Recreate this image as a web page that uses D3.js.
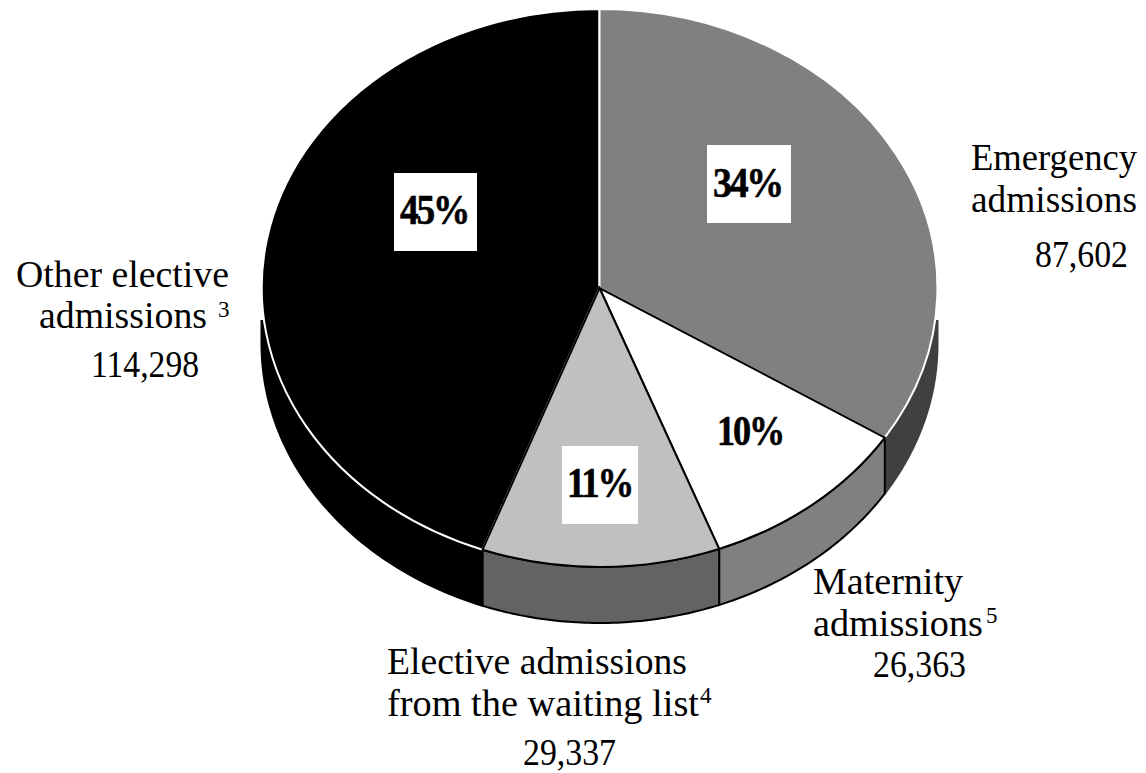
<!DOCTYPE html>
<html><head><meta charset="utf-8">
<script src="https://cdn.jsdelivr.net/npm/d3@7/dist/d3.min.js"></script>
<style>html,body{margin:0;background:#fff}svg{display:block}text{font-family:"Liberation Serif",serif;fill:#000}</style>
</head><body><svg id="c" width="1146" height="773"></svg>
<script>
const categories = ["Emergency admissions","Maternity admissions","Elective admissions from the waiting list","Other elective admissions"];
const values = [87602,26363,29337,114298];
const percentLabels = ["34%","10%","11%","45%"];
const valueLabels = ["87,602","26,363","29,337","114,298"];
const topFill = ["#808080","#ffffff","#c0c0c0","#000000"];
const topStroke = ["#ffffff","#000000","#000000","#ffffff"];
const wallFill = ["#404040","#808080","#636363","#000000"];
const wallStroke = ["#404040","#000000","#000000","#000000"];

const W=1146,H=773,cx=599.5,cy=288,rx=338,ry=279,depth=56;
const svg=d3.select("#c");
const pie=d3.pie().sort(null).startAngle(0).endAngle(2*Math.PI)(values);
const sx=d3.scaleLinear().domain([-1,1]).range([cx-rx,cx+rx]);
const sy=d3.scaleLinear().domain([-1,1]).range([cy-ry,cy+ry]);
const line=d3.line().x(d=>sx(d[0])).y(d=>sy(d[1])+(d[2]||0));

svg.append("clipPath").attr("id","wallClip").append("rect").attr("x",0).attr("y",320).attr("width",W).attr("height",H-320);
const walls=svg.append("g").attr("clip-path","url(#wallClip)");
function wall(a0,a1){
  const t=d3.range(0,61).map(i=>a0+(a1-a0)*i/60);
  const pts=t.map(a=>[Math.sin(a),-Math.cos(a),0]);
  const bot=t.slice().reverse().map(a=>[Math.sin(a),-Math.cos(a),depth]);
  return line(pts.concat(bot))+"Z";
}
pie.forEach((p,i)=>{
  const a0=Math.max(p.startAngle,Math.PI/2), a1=Math.min(p.endAngle,3*Math.PI/2);
  if(a1>a0) walls.append("path").attr("d",wall(a0,a1)).attr("fill",wallFill[i]).attr("stroke",wallStroke[i]).attr("stroke-width",2).attr("stroke-linejoin","round");
});
const arc=d3.arc().innerRadius(0).outerRadius(1);
const g=svg.append("g").attr("transform",`translate(${cx},${cy}) scale(${rx},${ry})`);
[3,0,1,2].forEach(i=>{
  g.append("path").attr("d",arc(pie[i])).attr("fill",topFill[i]).attr("stroke",topStroke[i])
   .attr("stroke-width",2).attr("vector-effect","non-scaling-stroke").attr("stroke-linejoin","miter");
});

const boxLayout=[[707,145,84,78],null,[562,446,76,78],[394,173,83,78]];
boxLayout.forEach(b=>{ if(b) svg.append("rect").attr("x",b[0]).attr("y",b[1]).attr("width",b[2]).attr("height",b[3]).attr("fill","#fff"); });
const pctLayout=[[713,197,69],[717,445,66],[567,497,65],[400,224,68]];
percentLabels.forEach((t,i)=>{
  const l=pctLayout[i];
  svg.append("text").attr("x",l[0]).attr("y",l[1]).attr("font-size",42).attr("font-weight","bold")
    .attr("letter-spacing",-2.5).attr("stroke","#000").attr("stroke-width",0.6)
    .attr("textLength",l[2]).attr("lengthAdjust","spacingAndGlyphs").text(t);
});

const labelLines=[
 ["Emergency",971,170,166],["admissions",971,212,166],[valueLabels[0],1035,267,93],
 ["Other elective",16,287,213],["admissions",39,328,168],[valueLabels[3],91,377,108],
 ["Maternity",813,594,150],["admissions",813,636,170],[valueLabels[1],873,677,93],
 ["Elective admissions",387,674,300],["from the waiting list",387,716,312],[valueLabels[2],523,765,93]
];
labelLines.forEach(l=>{
  svg.append("text").attr("x",l[1]).attr("y",l[2]).attr("font-size",37)
    .attr("textLength",l[3]).attr("lengthAdjust","spacingAndGlyphs").text(l[0]);
});
const sups=[["3",218,317],["5",986,623],["4",700,703]];
sups.forEach(s=>svg.append("text").attr("x",s[1]).attr("y",s[2]).attr("font-size",23).text(s[0]));
</script></body></html>
